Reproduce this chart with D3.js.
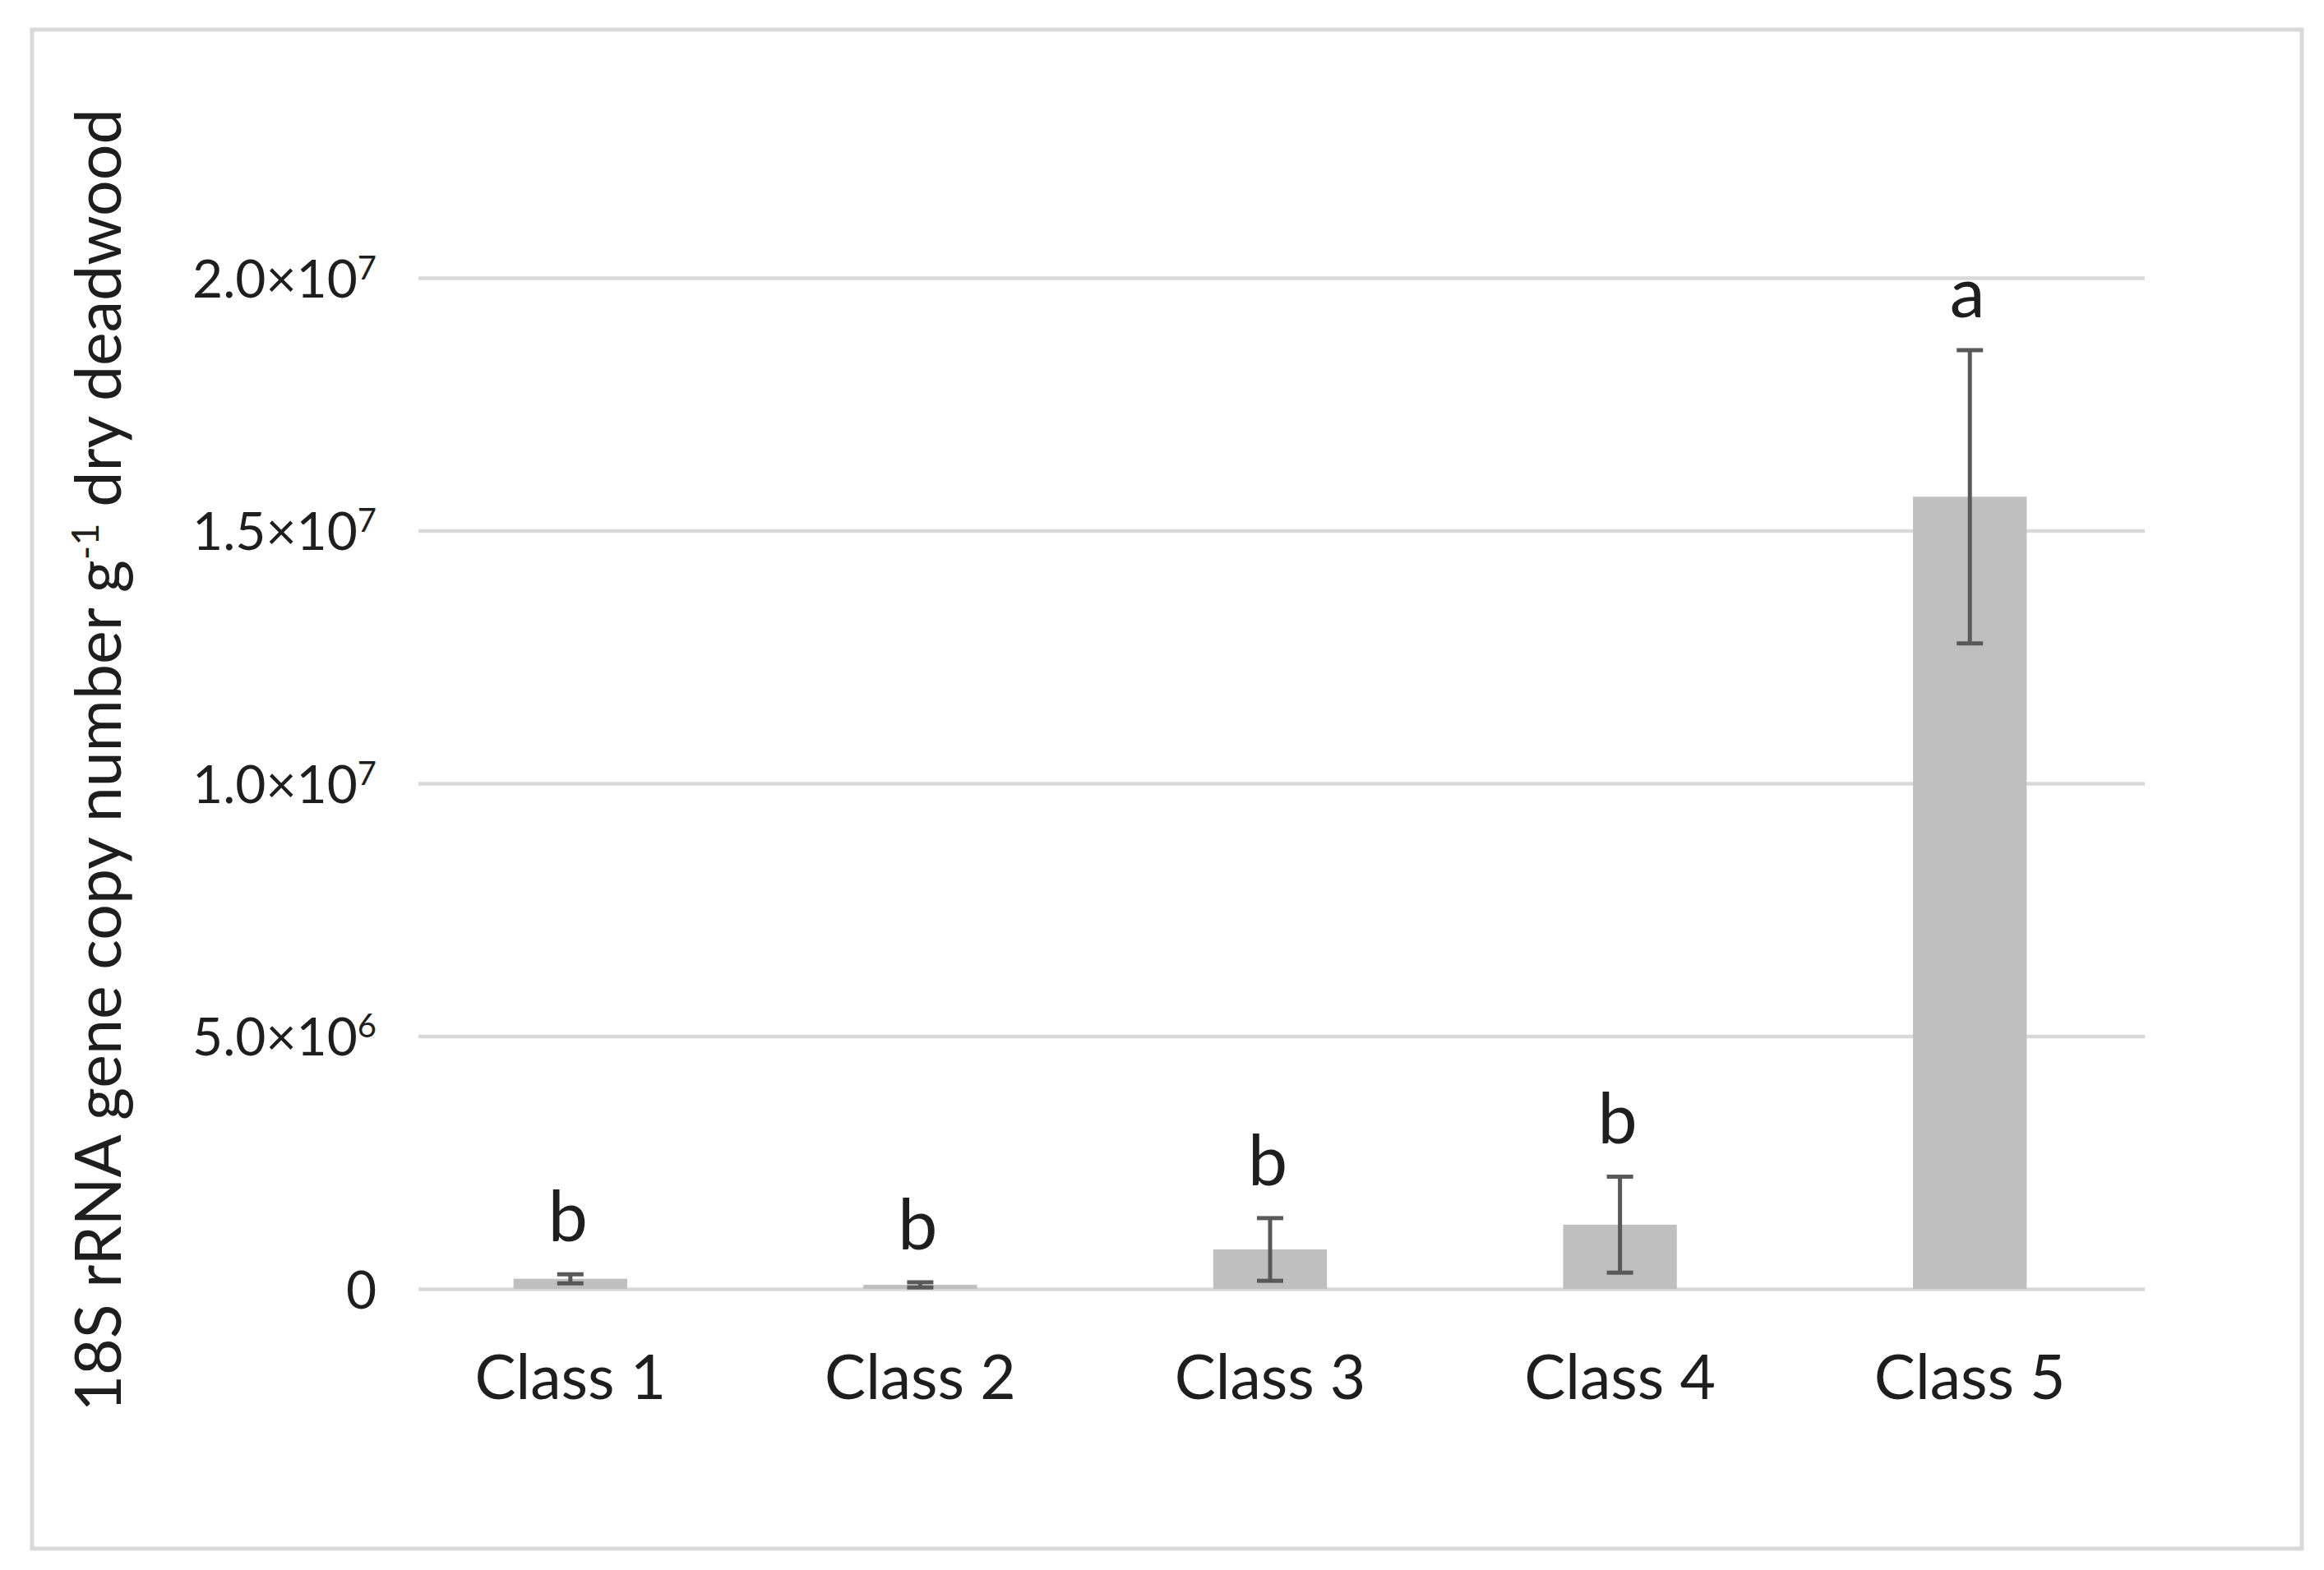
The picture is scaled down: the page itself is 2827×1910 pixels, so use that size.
<!DOCTYPE html>
<meta charset="utf-8">
<style>
  body { margin: 0; background: #fff; }
  text { font-family: Lato, "Open Sans", sans-serif; fill: #1e1e1e; }
</style>
<body>
<svg id="chart" width="2827" height="1910"></svg>

<script src="https://d3js.org/d3.v7.min.js"></script>
<script>
// values
var classes = ["Class 1", "Class 2", "Class 3", "Class 4", "Class 5"];
var means = [0.20e6, 0.08e6, 0.78e6, 1.27e6, 15.67e6];
var errors = [0.09e6, 0.05e6, 0.62e6, 0.95e6, 2.9e6];
var letters = ["b", "b", "b", "b", "a"];

var tickValues = [0, 5e6, 1e7, 1.5e7, 2e7];
var tickLabels = ["0", "5.0×10^6", "1.0×10^7", "1.5×10^7", "2.0×10^7"];

var svg = d3.select("#chart");

// frame round the whole chart
svg.append("rect")
    .attr("x", 39).attr("y", 36)
    .attr("width", 2761).attr("height", 1848)
    .attr("fill", "#fff")
    .attr("stroke", "#d9d9d9")
    .attr("stroke-width", 5);

var plotLeft = 509, plotRight = 2609, plotTop = 338, plotBottom = 1568;

var y = d3.scaleLinear().domain([0, 2e7]).range([plotBottom, plotTop]);
var x = d3.scaleBand().domain(classes)
    .range([481, plotRight])
    .paddingInner(0.675)
    .paddingOuter(0.3375);

// gridlines + tick labels
var yAxis = svg.append("g")
    .attr("transform", "translate(" + plotLeft + ",0)")
    .call(d3.axisLeft(y)
        .tickValues(tickValues)
        .tickSize(-(plotRight - plotLeft))
        .tickPadding(51)
        .tickFormat(function() { return ""; }));

yAxis.select(".domain").remove();
yAxis.selectAll(".tick line")
    .attr("stroke", "#d9d9d9")
    .attr("stroke-width", 4.5);

yAxis.selectAll(".tick text")
    .attr("fill", null)
    .attr("font-size", 64)
    .attr("dy", "0.36em")
    .each(function(d, i) {
        var parts = tickLabels[i].split("^");
        var t = d3.select(this);
        t.append("tspan").text(parts[0]);
        if (parts.length > 1) {
            t.append("tspan")
                .attr("font-size", 40)
                .attr("dy", -22)
                .text(parts[1]);
        }
    });
yAxis.attr("font-family", null).attr("font-size", null);

var data = classes.map(function(c, i) {
    return { name: c, mean: means[i], err: errors[i], letter: letters[i] };
});

// bars
svg.append("g").selectAll("rect")
    .data(data)
    .enter().append("rect")
    .attr("x", function(d) { return x(d.name); })
    .attr("y", function(d) { return y(d.mean); })
    .attr("width", x.bandwidth())
    .attr("height", function(d) { return y(0) - y(d.mean); })
    .attr("fill", "#bfbfbf");

// error bars
var capHalf = 16;
var err = svg.append("g")
    .attr("stroke", "#595959")
    .attr("stroke-width", 5)
    .selectAll("g")
    .data(data)
    .enter().append("g")
    .attr("transform", function(d) { return "translate(" + (x(d.name) + x.bandwidth() / 2) + ",0)"; });

err.append("line")
    .attr("y1", function(d) { return y(d.mean - d.err); })
    .attr("y2", function(d) { return y(d.mean + d.err); });
err.append("line")
    .attr("x1", -capHalf).attr("x2", capHalf)
    .attr("y1", function(d) { return y(d.mean + d.err); })
    .attr("y2", function(d) { return y(d.mean + d.err); });
err.append("line")
    .attr("x1", -capHalf).attr("x2", capHalf)
    .attr("y1", function(d) { return y(d.mean - d.err); })
    .attr("y2", function(d) { return y(d.mean - d.err); });

// significance letters
svg.append("g").selectAll("text")
    .data(data)
    .enter().append("text")
    .attr("x", function(d) { return x(d.name) + x.bandwidth() / 2 - 3; })
    .attr("y", function(d) { return y(d.mean + d.err) - 40; })
    .attr("text-anchor", "middle")
    .attr("font-size", 86)
    .text(function(d) { return d.letter; });

// category labels
svg.append("g").selectAll("text")
    .data(classes)
    .enter().append("text")
    .attr("x", function(d) { return x(d) + x.bandwidth() / 2; })
    .attr("y", 1702)
    .attr("text-anchor", "middle")
    .attr("font-size", 75)
    .text(function(d) { return d; });

// y axis title
var title = svg.append("text")
    .attr("transform", "translate(147,925) rotate(-90)")
    .attr("text-anchor", "middle")
    .attr("font-size", 77);
title.append("tspan").text("18S rRNA gene copy number g");
title.append("tspan").attr("font-size", 47).attr("dy", -27).text("-1");
title.append("tspan").attr("dy", 27).text(" dry deadwood");
</script>
</body>
